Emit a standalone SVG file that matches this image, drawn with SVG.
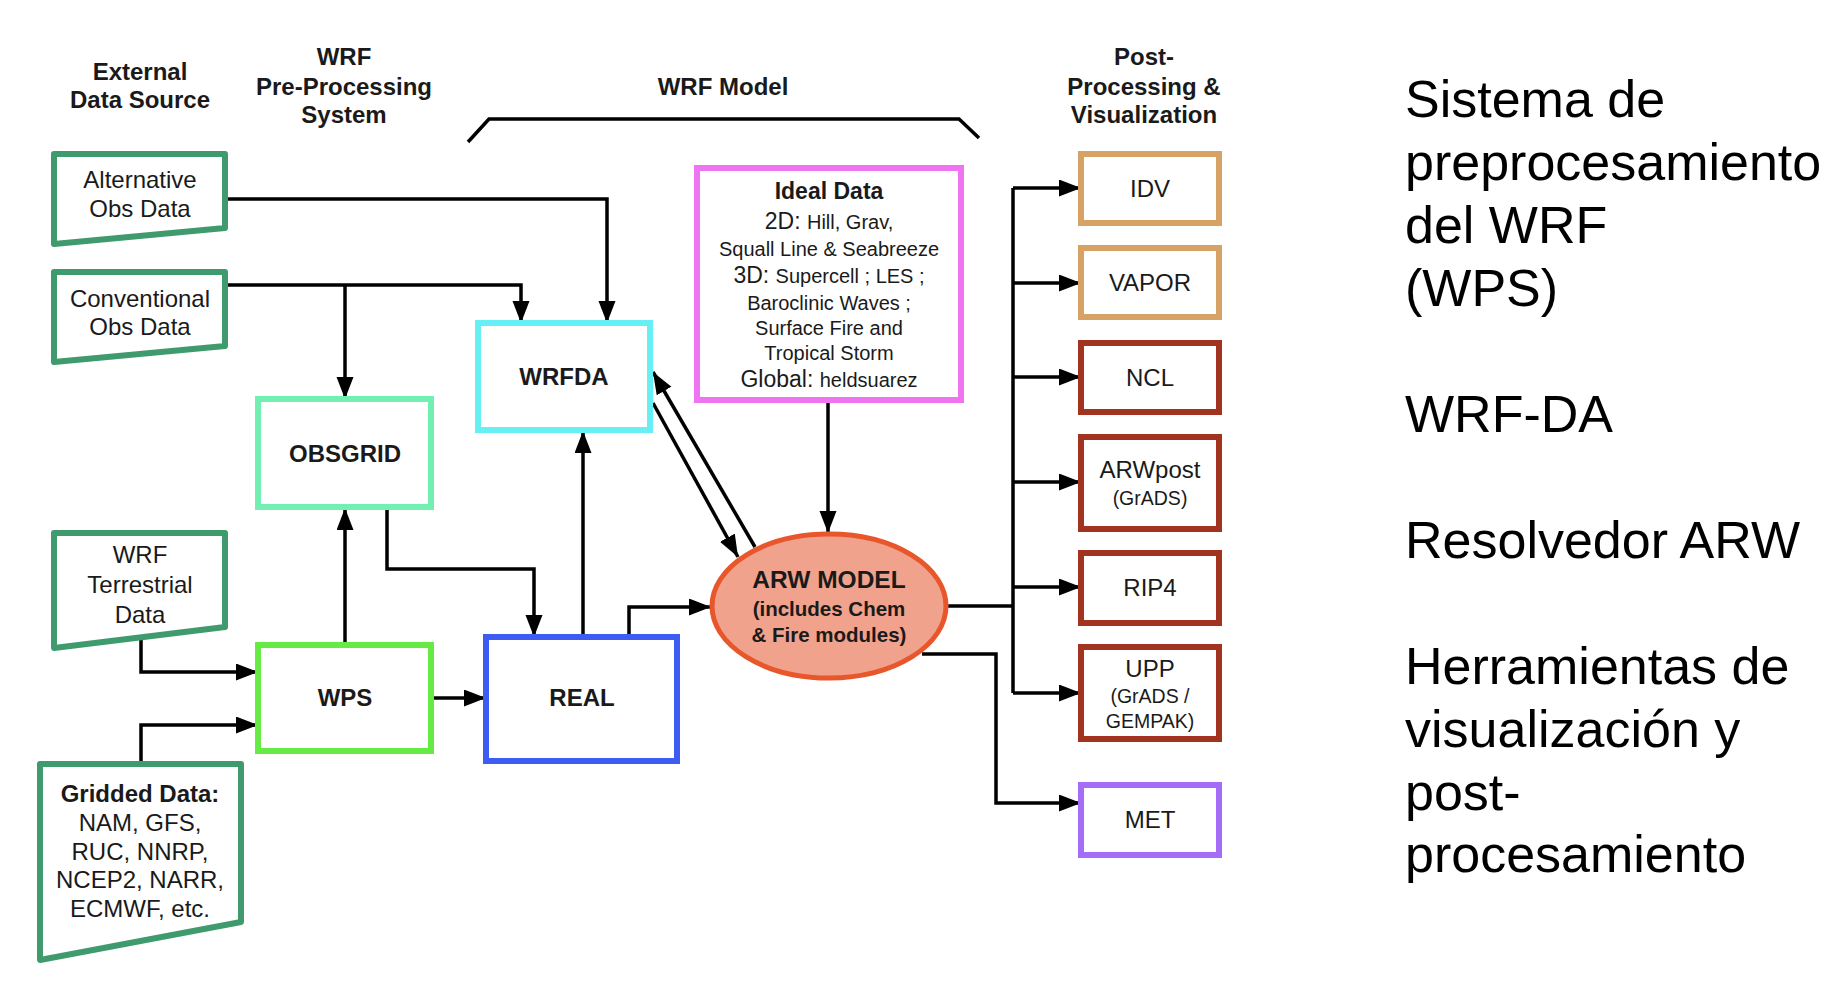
<svg xmlns="http://www.w3.org/2000/svg" width="1830" height="982" viewBox="0 0 1830 982">
<defs>
<marker id="ah" markerUnits="userSpaceOnUse" markerWidth="24" markerHeight="18" refX="22" refY="8.5" orient="auto">
<path d="M0,0 L22,8.5 L0,17 z" fill="#000"/>
</marker>
<style>
text{font-family:"Liberation Sans",Arial,Helvetica,sans-serif;fill:#1a1a1a;text-anchor:middle}
.h{font-size:24px;font-weight:bold}
.n{font-size:24px}
.b{font-size:24px;font-weight:bold}
.s{font-size:20px}
.m{font-size:19.5px}
.r{font-size:52px;text-anchor:start;fill:#000}
.src{fill:#fff;stroke:#3f9b6d;stroke-width:6;stroke-linejoin:round}
.box{fill:#fff;stroke-width:6}
.c{fill:none;stroke:#000;stroke-width:3.5}
.a{marker-end:url(#ah)}
</style>
</defs>
<rect width="1830" height="982" fill="#fff"/>

<g id="headers">
<text class="h" x="140" y="80">External</text>
<text class="h" x="140" y="108">Data Source</text>
<text class="h" x="344" y="65">WRF</text>
<text class="h" x="344" y="95">Pre-Processing</text>
<text class="h" x="344" y="123">System</text>
<text class="h" x="723" y="95">WRF Model</text>
<text class="h" x="1144" y="65">Post-</text>
<text class="h" x="1144" y="95">Processing &amp;</text>
<text class="h" x="1144" y="123">Visualization</text>
<path class="c" d="M468,142 L489,119 H959 L979,138"/>
</g>

<g id="connectors">
<path class="c a" d="M225,199 H607 V323"/>
<path class="c a" d="M225,285 H521 V323"/>
<path class="c a" d="M345,285 V399"/>
<path class="c a" d="M345,645 V508"/>
<path class="c a" d="M387,508 V569 H534 V637"/>
<path class="c a" d="M583,637 V431"/>
<path class="c a" d="M629,637 V607 H711"/>
<path class="c a" d="M141,636 V672 H258"/>
<path class="c a" d="M141,764 V725 H258"/>
<path class="c a" d="M431,698 H486"/>
<path class="c a" d="M653,403 L738,557"/>
<path class="c a" d="M755,547 L653,372"/>
<path class="c a" d="M828,400 V533"/>
<path class="c" d="M945,606 H1013 M1013,188 V693"/>
<path class="c a" d="M1013,188 H1081"/>
<path class="c a" d="M1013,283 H1081"/>
<path class="c a" d="M1013,377 H1081"/>
<path class="c a" d="M1013,482 H1081"/>
<path class="c a" d="M1013,587 H1081"/>
<path class="c a" d="M1013,693 H1081"/>
<path class="c a" d="M922,654 H996 V803 H1081"/>
</g>

<g id="alt-obs">
<polygon class="src" points="54,154 225,154 225,228 54,244"/>
<text class="n" x="140" y="188">Alternative</text>
<text class="n" x="140" y="217">Obs Data</text>
</g>
<g id="conv-obs">
<polygon class="src" points="54,272 225,272 225,346 54,362"/>
<text class="n" x="140" y="307">Conventional</text>
<text class="n" x="140" y="335">Obs Data</text>
</g>
<g id="terrestrial">
<polygon class="src" points="54,533 225,533 225,627 54,648"/>
<text class="n" x="140" y="563">WRF</text>
<text class="n" x="140" y="593">Terrestrial</text>
<text class="n" x="140" y="623">Data</text>
</g>
<g id="gridded">
<polygon class="src" points="40,764 241,764 241,922 40,960"/>
<text class="b" x="140" y="802">Gridded Data:</text>
<text class="n" x="140" y="831">NAM, GFS,</text>
<text class="n" x="140" y="860">RUC, NNRP,</text>
<text class="n" x="140" y="888">NCEP2, NARR,</text>
<text class="n" x="140" y="917">ECMWF, etc.</text>
</g>

<g id="obsgrid">
<rect class="box" x="258" y="399" width="173" height="108" stroke="#72f0b2"/>
<text class="b" x="345" y="462">OBSGRID</text>
</g>
<g id="wrfda">
<rect class="box" x="478" y="323" width="172" height="107" stroke="#66f0f6"/>
<text class="b" x="564" y="385">WRFDA</text>
</g>
<g id="wps">
<rect class="box" x="258" y="645" width="173" height="106" stroke="#66ea44"/>
<text class="b" x="345" y="706">WPS</text>
</g>
<g id="real">
<rect class="box" x="486" y="637" width="191" height="124" stroke="#3f5cf2"/>
<text class="b" x="582" y="706">REAL</text>
</g>

<g id="ideal">
<rect class="box" x="697" y="168" width="264" height="232" stroke="#ee74f2"/>
<text class="b" x="829" y="199" style="font-size:23px">Ideal Data</text>
<text class="s" x="829" y="229"><tspan style="font-size:23px">2D: </tspan>Hill, Grav,</text>
<text class="s" x="829" y="256">Squall Line &amp; Seabreeze</text>
<text class="s" x="829" y="283"><tspan style="font-size:23px">3D: </tspan>Supercell ; LES ;</text>
<text class="s" x="829" y="310">Baroclinic Waves ;</text>
<text class="s" x="829" y="335">Surface Fire and</text>
<text class="s" x="829" y="360">Tropical Storm</text>
<text class="s" x="829" y="387"><tspan style="font-size:23px">Global: </tspan>heldsuarez</text>
</g>

<g id="arw">
<ellipse cx="829" cy="606" rx="117" ry="72" fill="#f1a28c" stroke="#e8572c" stroke-width="5"/>
<text class="b" x="829" y="588" style="font-size:24.5px">ARW MODEL</text>
<text x="829" y="616" style="font-size:20.5px;font-weight:bold">(includes Chem</text>
<text x="829" y="642" style="font-size:20.5px;font-weight:bold">&amp; Fire modules)</text>
</g>

<g id="idv">
<rect class="box" x="1081" y="154" width="138" height="69" stroke="#d6a266"/>
<text class="n" x="1150" y="197">IDV</text>
</g>
<g id="vapor">
<rect class="box" x="1081" y="248" width="138" height="69" stroke="#d6a266"/>
<text class="n" x="1150" y="291">VAPOR</text>
</g>
<g id="ncl">
<rect class="box" x="1081" y="343" width="138" height="69" stroke="#a2331f"/>
<text class="n" x="1150" y="386">NCL</text>
</g>
<g id="arwpost">
<rect class="box" x="1081" y="437" width="138" height="92" stroke="#a2331f"/>
<text class="n" x="1150" y="478">ARWpost</text>
<text class="m" x="1150" y="505">(GrADS)</text>
</g>
<g id="rip4">
<rect class="box" x="1081" y="553" width="138" height="70" stroke="#a2331f"/>
<text class="n" x="1150" y="596">RIP4</text>
</g>
<g id="upp">
<rect class="box" x="1081" y="647" width="138" height="92" stroke="#a2331f"/>
<text class="n" x="1150" y="677">UPP</text>
<text class="m" x="1150" y="703">(GrADS /</text>
<text class="m" x="1150" y="728">GEMPAK)</text>
</g>
<g id="met">
<rect class="box" x="1081" y="785" width="138" height="70" stroke="#a56cf7"/>
<text class="n" x="1150" y="828">MET</text>
</g>

<g id="legend">
<text class="r" x="1405" y="117">Sistema de</text>
<text class="r" x="1405" y="180">preprocesamiento</text>
<text class="r" x="1405" y="243">del WRF</text>
<text class="r" x="1405" y="306">(WPS)</text>
<text class="r" x="1405" y="432">WRF-DA</text>
<text class="r" x="1405" y="558">Resolvedor ARW</text>
<text class="r" x="1405" y="684">Herramientas de</text>
<text class="r" x="1405" y="747">visualización y</text>
<text class="r" x="1405" y="810">post-</text>
<text class="r" x="1405" y="872">procesamiento</text>
</g>
</svg>
